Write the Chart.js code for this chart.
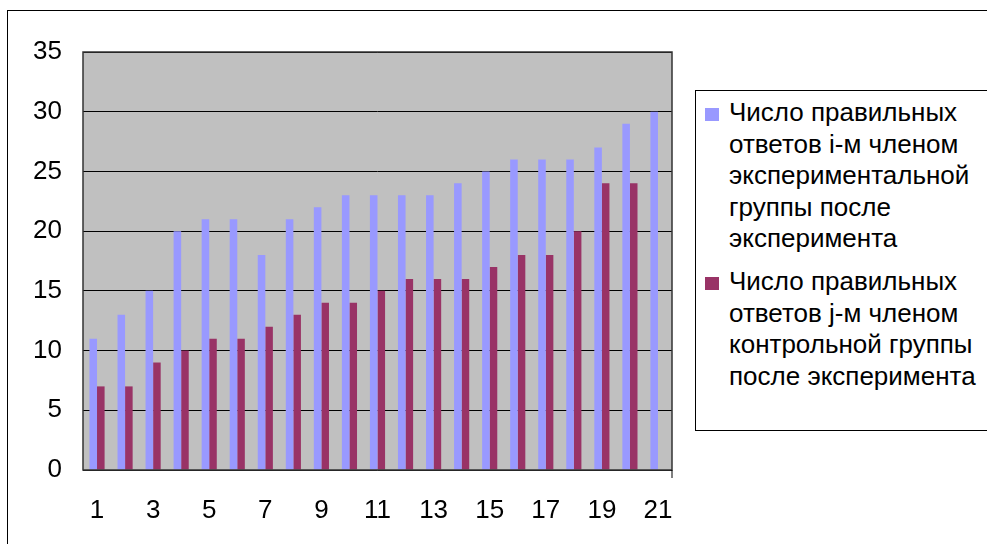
<!DOCTYPE html>
<html lang="ru">
<head>
    <meta charset="UTF-8">
    <title>Число правильных ответов</title>
    <script src="https://cdn.jsdelivr.net/npm/chart.js"></script>
    <style>
        body { margin: 0; background: #fff; font-family: "Liberation Sans", Arial, sans-serif; }
        .wrap { position: relative; width: 987px; height: 544px; overflow: hidden; }
        .frame { position: absolute; left: 7px; top: 10px; width: 1200px; height: 800px;
                 border-left: 1px solid #000; border-top: 1px solid #000; }
        canvas { position: absolute; left: 0; top: 0; }
        .legend { position: absolute; left: 695px; top: 90px; width: 400px; height: 339px;
                  border: 1px solid #000; background: #fff; }
        .legend-item { position: absolute; left: 33px; font-size: 26px; line-height: 31.5px; color: #000; white-space: nowrap; }
        .legend-item .box { position: absolute; left: -24px; top: 11px; width: 14px; height: 13px; }
    </style>
</head>
<body>
<div class="wrap">
    <div class="frame"></div>
    <canvas id="answersChart" width="987" height="544"></canvas>
    <div class="legend" id="legend"></div>
</div>

<script>
    // Data
    const categories = ['1','2','3','4','5','6','7','8','9','10','11','12','13','14','15','16','17','18','19','20','21'];
    const experimental = [11, 13, 15, 20, 21, 21, 18, 21, 22, 23, 23, 23, 23, 24, 25, 26, 26, 26, 27, 29, 30];
    const control = [7, 7, 9, 10, 11, 11, 12, 13, 14, 14, 15, 16, 16, 16, 17, 18, 18, 20, 24, 24, null];
    const yTicks = [0, 5, 10, 15, 20, 25, 30, 35];
    const seriesNames = [
        ['Число правильных', 'ответов i-м членом', 'экспериментальной', 'группы после', 'эксперимента'],
        ['Число правильных', 'ответов j-м членом', 'контрольной группы', 'после эксперимента']
    ];
    const seriesColors = ['#9999FF', '#993366'];

    // plot background + border
    const plotFrame = {
        id: 'plotFrame',
        beforeDraw(chart) {
            const a = chart.chartArea, ctx = chart.ctx;
            ctx.save();
            ctx.fillStyle = '#C0C0C0';
            ctx.fillRect(a.left, a.top, a.right - a.left, a.bottom - a.top);
            ctx.restore();
        },
        afterDatasetsDraw(chart) {
            const a = chart.chartArea, ctx = chart.ctx;
            ctx.save();
            ctx.strokeStyle = '#333';
            ctx.lineWidth = 1.5;
            ctx.strokeRect(a.left, a.top, a.right - a.left, a.bottom - a.top);
            ctx.strokeStyle = '#000';
            ctx.lineWidth = 1;
            ctx.beginPath();
            ctx.moveTo(a.right, a.bottom);
            ctx.lineTo(a.right, a.bottom + 8);
            ctx.stroke();
            ctx.restore();
        }
    };

    new Chart(document.getElementById('answersChart').getContext('2d'), {
        type: 'bar',
        data: {
            labels: categories,
            datasets: [
                { label: seriesNames[0].join(' '), data: experimental, backgroundColor: seriesColors[0] },
                { label: seriesNames[1].join(' '), data: control, backgroundColor: seriesColors[1] }
            ]
        },
        options: {
            responsive: false,
            animation: false,
            layout: { padding: { left: 0, top: 52, right: 315, bottom: 14 } },
            datasets: { bar: { categoryPercentage: 0.54, barPercentage: 1 } },
            plugins: { legend: { display: false }, tooltip: { enabled: false } },
            scales: {
                x: {
                    grid: { display: false, drawTicks: false },
                    border: { display: false },
                    afterFit(scale) { scale.height = 60; },
                    ticks: {
                        autoSkip: false,
                        maxRotation: 0,
                        padding: 25,
                        color: '#000',
                        font: { family: 'Liberation Sans', size: 26 },
                        callback: (v, i) => (i % 2 === 0 ? categories[i] : '')
                    }
                },
                y: {
                    min: 0,
                    max: 35,
                    afterFit(scale) { scale.width = 83; },
                    afterBuildTicks(scale) { scale.ticks = yTicks.map(v => ({ value: v })); },
                    grid: { color: '#000', lineWidth: 1, drawTicks: false },
                    border: { display: false },
                    ticks: {
                        padding: 21,
                        color: '#000',
                        font: { family: 'Liberation Sans', size: 26 }
                    }
                }
            }
        },
        plugins: [plotFrame]
    });

    // legend (wrapped lines like the original)
    const legend = document.getElementById('legend');
    const itemTops = [6, 175];
    seriesNames.forEach((lines, k) => {
        const item = document.createElement('div');
        item.className = 'legend-item';
        item.style.top = itemTops[k] + 'px';
        item.innerHTML = '<span class="box" style="background:' + seriesColors[k] + '"></span>' + lines.join('<br>');
        legend.appendChild(item);
    });
</script>
</body>
</html>
